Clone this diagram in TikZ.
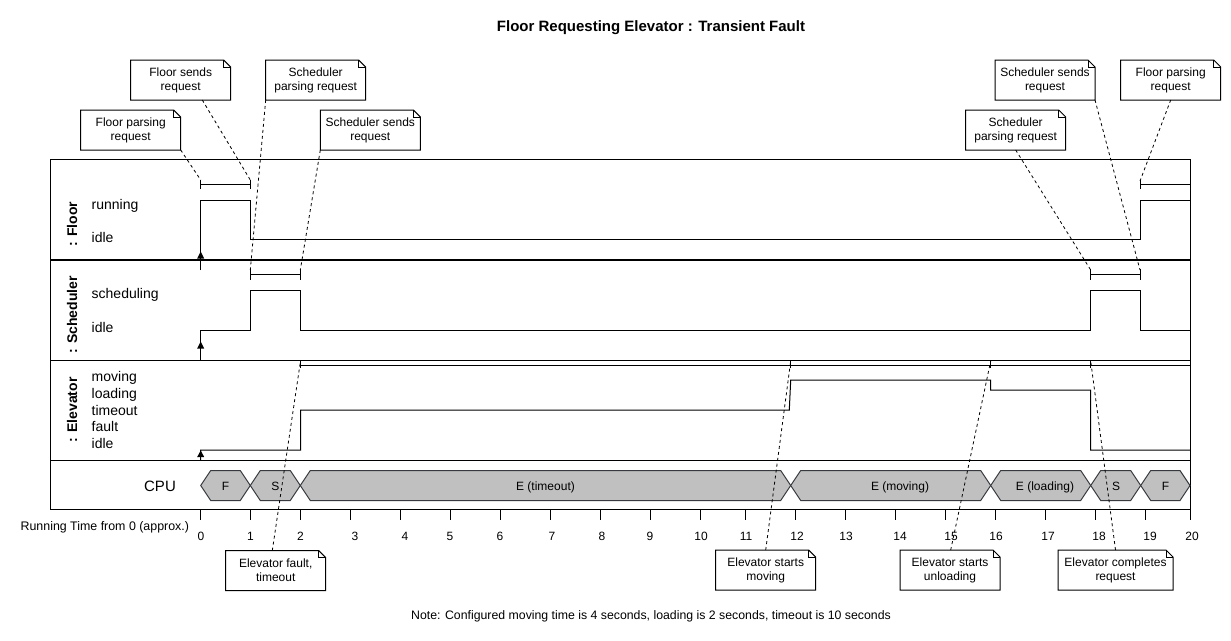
\documentclass[tikz,border=0pt]{standalone}
\usepackage{fontspec}
\setmainfont{Liberation Sans}
\usetikzlibrary{calc}
\definecolor{cpugray}{HTML}{C0C0C0}
\definecolor{hexline}{HTML}{36393D}
\tikzset{
  every node/.style={inner sep=0pt, outer sep=0pt},
  sig/.style={line width=1pt, black},
  sep/.style={line width=1pt, black},
  brk/.style={line width=1pt, black},
  conn/.style={line width=0.8pt, dash pattern=on 3pt off 3pt},
  notebox/.style={minimum width=100pt, minimum height=40pt, align=center, fill=white,
    font=\fontsize{12}{14}\selectfont},
  noteline/.style={line width=1pt, black},
  hexa/.style={fill=cpugray, draw=hexline, line width=1pt},
  hexlabel/.style={anchor=base, font=\fontsize{12}{14}\selectfont},
  state/.style={anchor=base west, font=\fontsize{14}{16}\selectfont},
  lane/.style={rotate=90, font=\bfseries\fontsize{14}{16}\selectfont},
  ticklabel/.style={anchor=base, font=\fontsize{12}{14}\selectfont},
  lifearrow/.style={fill=black},
}
\newcommand{\mknote}[5]{%
  \node[notebox, minimum width=#5pt] (#1) at (#2,#3) {#4};
  \draw[noteline] (#1.south west) -- (#1.north west) -- ([xshift=-7pt]#1.north east)
     -- ([yshift=-7pt]#1.north east) -- (#1.south east) -- cycle;
  \draw[noteline] ([xshift=-7pt]#1.north east) -- ([xshift=-7pt,yshift=-7pt]#1.north east)
     -- ([yshift=-7pt]#1.north east);
}
\newcommand{\hexseg}[5]{%
  \draw[hexa] (#2,485.5) -- (#2+10,470.5) -- (#3-10,470.5) -- (#3,485.5) -- (#3-10,500.5) -- (#2+10,500.5) -- cycle;
  \node[hexlabel] (#1) at (#4,490) {#5};
}
\begin{document}
\begin{tikzpicture}[x=1pt,y=-1pt]
\useasboundingbox (0,0) rectangle (1231,640);

% title
\node[anchor=base, font=\bfseries\fontsize{15}{17}\selectfont] (title) at (651,31.5) {Floor Requesting Elevator : Transient Fault};

% frame and lanes
\draw[sep] (50.5,159.5) rectangle (1190,509.5);
\draw[line width=2pt] (50.5,260) -- (1190,260);
\draw[sep] (50.5,360) -- (1190,360);
\draw[sep] (50.5,460) -- (1190,460);

% lane labels
\node[lane] (lfloor) at (72,224) {: Floor};
\node[lane] (lsched) at (72,315) {: Scheduler};
\node[lane] (lelev) at (72,410) {: Elevator};

% state labels
\node[state] (s1) at (91.7,209) {running};
\node[state] (s2) at (91.7,242) {idle};
\node[state] (s3) at (91.7,298.5) {scheduling};
\node[state] (s4) at (91.7,332.5) {idle};
\node[state] (s5) at (91.7,381.5) {moving};
\node[state] (s6) at (91.7,398.5) {loading};
\node[state] (s7) at (91.7,415) {timeout};
\node[state] (s8) at (91.7,431) {fault};
\node[state] (s9) at (91.7,448) {idle};

% Floor waveform
\draw[sig] (200.7,270) -- (200.7,200.3) -- (250.3,200.3) -- (250.3,239.3) -- (1140,239.3) -- (1140,200.3) -- (1190,200.3);
\fill[lifearrow] (200.7,251.5) -- (197.2,258.5) -- (204.2,258.5) -- cycle;
% Scheduler waveform
\draw[sig] (200.7,360) -- (200.7,330) -- (250.3,330) -- (250.3,290.3) -- (300.3,290.3) -- (300.3,330) -- (1090.7,330) -- (1090.7,290.3) -- (1140,290.3) -- (1140,330) -- (1190,330);
\fill[lifearrow] (200.7,341.5) -- (197.2,348.5) -- (204.2,348.5) -- cycle;
% Elevator waveform
\draw[sig] (200.7,460) -- (200.7,450) -- (300.7,450) -- (300.7,410) -- (789.3,410) -- (790.7,380) -- (990.7,380) -- (990.7,390) -- (1090.7,390) -- (1090.7,450) -- (1190,450);
\fill[lifearrow] (200.7,450.5) -- (197.2,457) -- (204.2,457) -- cycle;

% brackets
\draw[brk] (200.7,184.3) -- (250.3,184.3);
\draw[brk] (200.7,180) -- (200.7,188.5);
\draw[brk] (250.3,180) -- (250.3,188.5);
\draw[brk] (1140,184.3) -- (1190,184.3);
\draw[brk] (1140,180) -- (1140,188.5);
\draw[brk] (250.3,274) -- (300.3,274);
\draw[brk] (250.3,269) -- (250.3,280);
\draw[brk] (300.3,269) -- (300.3,280);
\draw[brk] (1090.7,274) -- (1140,274);
\draw[brk] (1090.7,269) -- (1090.7,280);
\draw[brk] (1140,269) -- (1140,280);
\draw[brk] (300.7,365) -- (1190,365);
\foreach \x in {300.7,790.7,990.7,1090.7} \draw[brk] (\x,360) -- (\x,368);

% bracket end coordinates
\coordinate (fbL) at (200.7,180);
\coordinate (fbR) at (250.3,180);
\coordinate (fbR2) at (1140,181);
\coordinate (sbL) at (250.3,270);
\coordinate (sbR) at (300.3,270);
\coordinate (sbL2) at (1090.7,270);
\coordinate (sbR2) at (1140,270);
\coordinate (eb1) at (300.5,361);
\coordinate (eb2) at (790.7,361);
\coordinate (eb3) at (990.7,361);
\coordinate (eb4) at (1090.7,361);

% CPU row
\node[anchor=base, font=\fontsize{15}{17}\selectfont] (cpu) at (160,491) {CPU};
\hexseg{h1}{200.7}{250.3}{225.5}{F}
\hexseg{h2}{250.3}{300.3}{275.3}{S}
\hexseg{h3}{300.3}{790.7}{545.5}{E (timeout)}
\hexseg{h4}{790.7}{990.7}{900}{E (moving)}
\hexseg{h5}{990.7}{1090.7}{1045}{E (loading)}
\hexseg{h6}{1090.7}{1140.7}{1116}{S}
\hexseg{h7}{1140.7}{1190}{1165.5}{F}

% axis
\node[anchor=base east, font=\fontsize{12.4}{14}\selectfont] (axislabel) at (189,530) {Running Time from 0 (approx.)};
\foreach \t/\x/\lx in {0/200.7/201,1/250.3/250.5,2/300.3/300.5,3/350.7/355,4/400.3/405,5/450/450,6/500/500,7/550.3/552,8/600.3/602,9/650.3/650,10/700/701,11/745.7/746,12/795.7/797,13/845.7/846,14/895.7/900,15/945.7/951,16/995.7/996,17/1045.7/1048,18/1095.7/1099,19/1145.7/1150,20/1190/1192}{
  \draw[line width=1pt] (\x,509.5) -- (\x,520);
  \node[ticklabel] (t\t) at (\lx,540.5) {\t};
}

% notes
\mknote{nFP}{130.7}{130}{Floor parsing\\request}{100}
\mknote{nFS}{180.7}{80}{Floor sends\\request}{100}
\mknote{nSP}{315.7}{80}{Scheduler\\parsing request}{100}
\mknote{nSS}{370.3}{130}{Scheduler sends\\request}{100}
\mknote{nSP2}{1015.7}{130}{Scheduler\\parsing request}{100}
\mknote{nSS2}{1045}{80}{Scheduler sends\\request}{100}
\mknote{nFP2}{1170.7}{80}{Floor parsing\\request}{100}
\mknote{nEF}{275.7}{570.5}{Elevator fault,\\timeout}{100}
\mknote{nEM}{765.7}{570}{Elevator starts\\moving}{100}
\mknote{nEU}{950}{570}{Elevator starts\\unloading}{100}
\mknote{nEC}{1115.5}{570}{Elevator completes\\request}{115}

% connectors
\draw[conn] (nFP.south east) -- (fbL);
\draw[conn] ([xshift=21.6pt]nFS.south) -- (fbR);
\draw[conn] (nSP.south west) -- (sbL);
\draw[conn] (nSS.south west) -- (sbR);
\draw[conn] (nSP2.south) -- (sbL2);
\draw[conn] (nSS2.south east) -- (sbR2);
\draw[conn] (nFP2.south) -- (fbR2);
\draw[conn] ([xshift=-3.4pt]nEF.north) -- (eb1);
\draw[conn] (nEM.north) -- (eb2);
\draw[conn] ([xshift=0.7pt]nEU.north) -- (eb3);
\draw[conn] (nEC.north) -- (eb4);

% footnote
\node[anchor=base, font=\fontsize{12.3}{14}\selectfont] (footnote) at (651,619.5) {Note: Configured moving time is 4 seconds, loading is 2 seconds, timeout is 10 seconds};
\end{tikzpicture}
\end{document}
